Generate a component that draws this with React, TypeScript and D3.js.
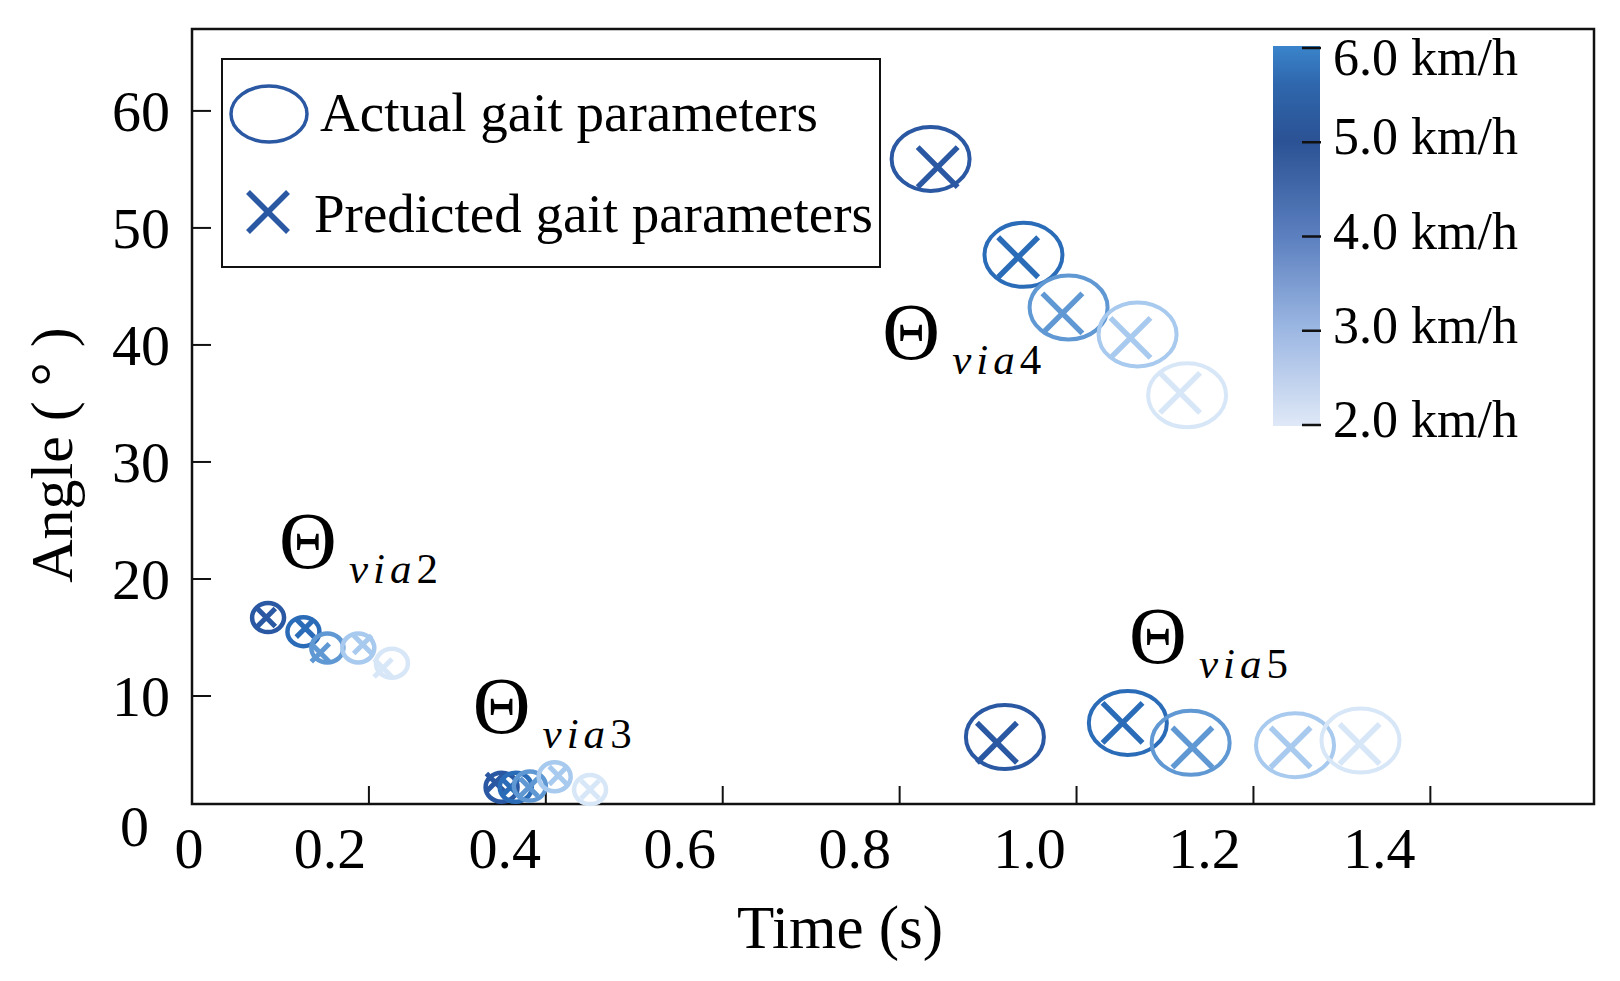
import React, { useRef, useEffect } from 'react'
import * as d3 from "d3";

// ---- data ----
// point order inside every cluster: speed index 0..4
const speedIndex = [0, 1, 2, 3, 4];
const speedColors = ["#2b58a2", "#2b6cb8", "#5f98d3", "#a8caee", "#d8e7f8"];

const via2Time = [0.086, 0.126, 0.153, 0.188, 0.226];
const via2Angle = [16.7, 15.5, 14.1, 14.1, 12.8];
const via2PredTime = [0.084, 0.128, 0.145, 0.193, 0.216];
const via2PredAngle = [16.7, 15.8, 13.7, 14.4, 12.4];

const via3Time = [0.350, 0.366, 0.382, 0.410, 0.450];
const via3Angle = [2.2, 2.2, 2.3, 3.1, 2.0];
const via3PredTime = [0.343, 0.360, 0.381, 0.414, 0.450];
const via3PredAngle = [2.6, 2.2, 2.2, 3.2, 2.0];

const via4Time = [0.835, 0.940, 0.991, 1.069, 1.125];
const via4Angle = [55.9, 47.7, 43.2, 40.9, 35.7];
const via4PredTime = [0.843, 0.934, 0.984, 1.061, 1.117];
const via4PredAngle = [55.2, 47.5, 42.7, 40.6, 35.9];

const via5Time = [0.919, 1.058, 1.129, 1.247, 1.321];
const via5Angle = [6.5, 7.7, 6.0, 5.8, 6.2];
const via5PredTime = [0.910, 1.052, 1.131, 1.242, 1.320];
const via5PredAngle = [6.0, 7.7, 5.6, 5.6, 5.9];

const clusterNames = ["2", "3", "4", "5"];
// where each Θ label sits (time, angle)
const labelTime = [0.131, 0.350, 0.813, 1.092];
const labelAngle = [23.3, 9.2, 41.2, 15.2];

const xTicks = [0.2, 0.4, 0.6, 0.8, 1.0, 1.2, 1.4];
const xTickLabels = [0, 0.2, 0.4, 0.6, 0.8, 1.0, 1.2, 1.4];
const yTicks = [10, 20, 30, 40, 50, 60];

const cbarTicks = [2, 3, 4, 5, 6];
const cbarStopValues = [2, 3, 4, 5, 5.6, 6];
const cbarStopColors = ["#dfe8f7", "#9db8e3", "#5b7fbf", "#2b5294", "#2f67ad", "#3a84cb"];

const legendLabels = ["Actual gait parameters", "Predicted gait parameters"];

function App() {
    const chartRef = useRef(null);

    useEffect(() => {
        drawChart();
    }, []);

    const drawChart = () => {
        if (!chartRef.current) return;

        const width = 1620;
        const height = 981;
        const font = "'Liberation Serif', 'Times New Roman', serif";
        const frame = { left: 192, right: 1594, top: 29, bottom: 804 };

        d3.select(chartRef.current).selectAll("*").remove();

        const svg = d3.select(chartRef.current)
            .attr("width", width)
            .attr("height", height)
            .style("background", "#fff");

        // scales
        const x = d3.scaleLinear()
            .domain([0, 1.585])
            .range([frame.left, frame.right]);

        const y = d3.scaleLinear()
            .domain([0.77, 67])
            .range([frame.bottom, frame.top]);

        const color = d3.scaleOrdinal().domain(speedIndex).range(speedColors);

        // frame
        svg.append("rect")
            .attr("x", frame.left)
            .attr("y", frame.top)
            .attr("width", frame.right - frame.left)
            .attr("height", frame.bottom - frame.top)
            .attr("fill", "none")
            .attr("stroke", "#111")
            .attr("stroke-width", 2.5);

        // x ticks (inward)
        svg.selectAll(".xtick")
            .data(xTicks)
            .enter()
            .append("line")
            .attr("x1", d => x(d))
            .attr("x2", d => x(d))
            .attr("y1", frame.bottom)
            .attr("y2", frame.bottom - 18)
            .attr("stroke", "#111")
            .attr("stroke-width", 2);

        // x tick labels sit left of their ticks in the original
        svg.selectAll(".xlabel")
            .data(xTickLabels)
            .enter()
            .append("text")
            .attr("x", d => d === 0 ? x(d) - 3 : x(d) - 37 - 10 * d)
            .attr("y", 868)
            .attr("text-anchor", "middle")
            .style("font-family", font)
            .style("font-size", "58px")
            .text(d => d === 0 ? "0" : d.toFixed(1));

        // y ticks (inward)
        svg.selectAll(".ytick")
            .data(yTicks)
            .enter()
            .append("line")
            .attr("x1", frame.left)
            .attr("x2", frame.left + 19)
            .attr("y1", d => y(d))
            .attr("y2", d => y(d))
            .attr("stroke", "#111")
            .attr("stroke-width", 2);

        svg.selectAll(".ylabel")
            .data(yTicks)
            .enter()
            .append("text")
            .attr("x", 170)
            .attr("y", d => y(d))
            .attr("dy", "0.35em")
            .attr("text-anchor", "end")
            .style("font-family", font)
            .style("font-size", "58px")
            .text(d => d);

        svg.append("text")
            .attr("x", 149)
            .attr("y", y(0) + 13)
            .attr("dy", "0.35em")
            .attr("text-anchor", "end")
            .style("font-family", font)
            .style("font-size", "58px")
            .text("0");

        // axis titles
        svg.append("text")
            .attr("x", 840)
            .attr("y", 948)
            .attr("text-anchor", "middle")
            .style("font-family", font)
            .style("font-size", "61px")
            .text("Time (s)");

        svg.append("text")
            .attr("transform", "translate(72, 455) rotate(-90)")
            .attr("text-anchor", "middle")
            .style("font-family", font)
            .style("font-size", "60px")
            .text("Angle ( ° )");

        // clusters
        const clusters = [
            { t: via2Time, a: via2Angle, pt: via2PredTime, pa: via2PredAngle, big: false },
            { t: via3Time, a: via3Angle, pt: via3PredTime, pa: via3PredAngle, big: false },
            { t: via4Time, a: via4Angle, pt: via4PredTime, pa: via4PredAngle, big: true },
            { t: via5Time, a: via5Angle, pt: via5PredTime, pa: via5PredAngle, big: true },
        ];

        clusters.forEach(c => {
            const rx = c.big ? 39 : 16;
            const ry = c.big ? 32 : 14.5;
            const half = c.big ? 20 : 9;
            const g = svg.append("g");

            speedIndex.forEach(i => {
                g.append("ellipse")
                    .attr("cx", x(c.t[i]))
                    .attr("cy", y(c.a[i]))
                    .attr("rx", rx)
                    .attr("ry", ry)
                    .attr("fill", "none")
                    .attr("stroke", color(i))
                    .attr("stroke-width", c.big ? 4 : 4.5);

                const cx = x(c.pt[i]);
                const cy = y(c.pa[i]);
                g.append("path")
                    .attr("d", `M${cx - half},${cy - half}L${cx + half},${cy + half}M${cx - half},${cy + half}L${cx + half},${cy - half}`)
                    .attr("stroke", color(i))
                    .attr("stroke-width", c.big ? 5.5 : 5)
                    .attr("fill", "none");
            });
        });

        // Θ via labels
        clusterNames.forEach((n, i) => {
            const lx = x(labelTime[i]);
            const ly = y(labelAngle[i]);
            svg.append("text")
                .attr("x", lx)
                .attr("y", ly)
                .attr("dy", "0.35em")
                .attr("text-anchor", "middle")
                .style("font-family", font)
                .style("font-size", "80px")
                .text("Θ");

            const sub = svg.append("text")
                .attr("x", lx + 41)
                .attr("y", ly + 43)
                .style("font-family", font)
                .style("font-size", "43px")
                .style("letter-spacing", "5px");
            sub.append("tspan").style("font-style", "italic").text("via");
            sub.append("tspan").text(n);
        });

        // legend
        svg.append("rect")
            .attr("x", 222)
            .attr("y", 59)
            .attr("width", 658)
            .attr("height", 208)
            .attr("fill", "#fff")
            .attr("stroke", "#111")
            .attr("stroke-width", 2);

        svg.append("ellipse")
            .attr("cx", 269)
            .attr("cy", 114)
            .attr("rx", 38)
            .attr("ry", 28)
            .attr("fill", "none")
            .attr("stroke", speedColors[0])
            .attr("stroke-width", 3.5);

        svg.append("path")
            .attr("d", "M248,192L288,232M248,232L288,192")
            .attr("stroke", speedColors[0])
            .attr("stroke-width", 5.5);

        svg.selectAll(".legtext")
            .data(legendLabels)
            .enter()
            .append("text")
            .attr("x", (d, i) => i === 0 ? 320 : 314)
            .attr("y", (d, i) => i === 0 ? 131 : 232)
            .style("font-family", font)
            .style("font-size", "55px")
            .text(d => d);

        // colour bar
        const cb = d3.scaleLinear().domain([2, 6]).range([425, 48]);
        const grad = svg.append("defs")
            .append("linearGradient")
            .attr("id", "cbarGrad")
            .attr("x1", 0).attr("y1", 1)
            .attr("x2", 0).attr("y2", 0);
        cbarStopValues.forEach((v, i) => {
            grad.append("stop")
                .attr("offset", (v - 2) / 4)
                .attr("stop-color", cbarStopColors[i]);
        });

        svg.append("rect")
            .attr("x", 1273)
            .attr("y", cb(6) - 2)
            .attr("width", 47)
            .attr("height", cb(2) - cb(6) + 3)
            .attr("fill", "url(#cbarGrad)");

        svg.selectAll(".cbtick")
            .data(cbarTicks)
            .enter()
            .append("line")
            .attr("x1", 1302)
            .attr("x2", 1321)
            .attr("y1", d => cb(d))
            .attr("y2", d => cb(d))
            .attr("stroke", "#111")
            .attr("stroke-width", 2.5);

        // the top label is pushed down below the frame in the original
        svg.selectAll(".cblabel")
            .data(cbarTicks)
            .enter()
            .append("text")
            .attr("x", 1333)
            .attr("y", d => d === 6 ? cb(d) + 9 : cb(d) - 6)
            .attr("dy", "0.35em")
            .style("font-family", font)
            .style("font-size", "52px")
            .text(d => `${d.toFixed(1)} km/h`);
    };

    return (
        <div style={{ position: "absolute", left: 0, top: 0, width: 1620, height: 981, background: "#fff" }}>
            <svg ref={chartRef}></svg>
        </div>
    )
}

export default App
